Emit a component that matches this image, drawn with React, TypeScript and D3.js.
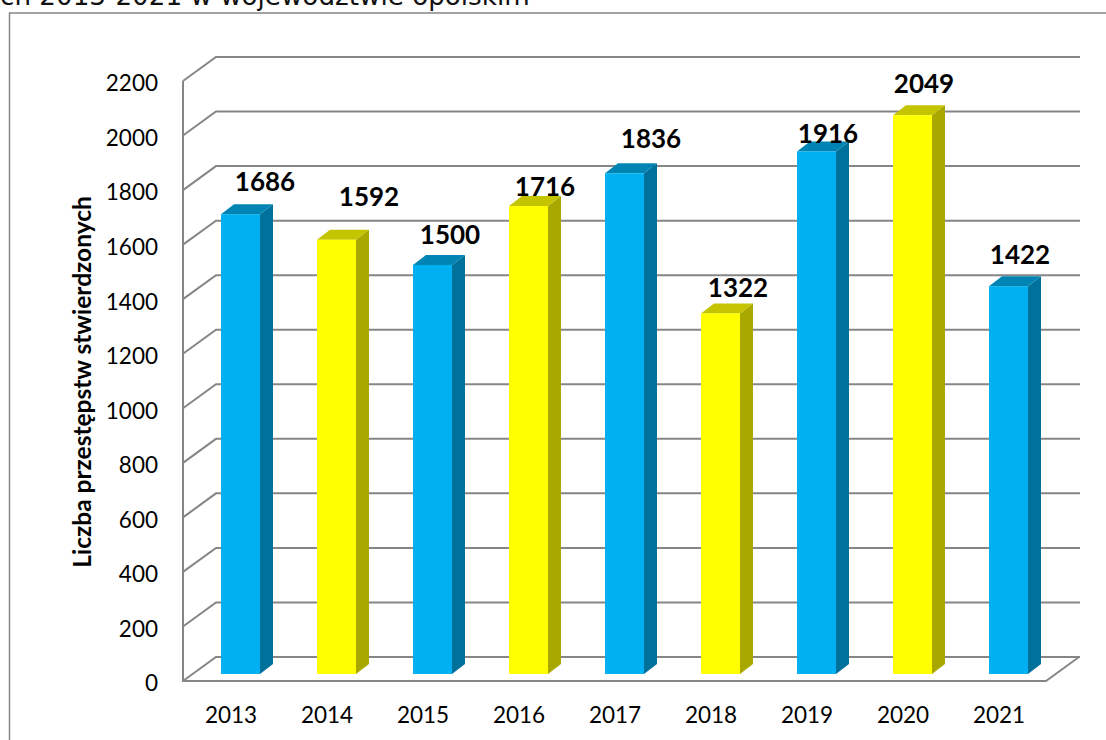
import { useEffect, useRef } from 'react'
import * as d3 from 'd3'

const years = ['2013', '2014', '2015', '2016', '2017', '2018', '2019', '2020', '2021']
const counts = [1686, 1592, 1500, 1716, 1836, 1322, 1916, 2049, 1422]
const yTicks = [0, 200, 400, 600, 800, 1000, 1200, 1400, 1600, 1800, 2000, 2200]
const yTitle = 'Liczba przestępstw stwierdzonych'
const heading = 'ch 2013-2021 w województwie opolskim'

// labels were dragged by hand in the original, so each has its own offset from the bar
const labelNudge: [number, number][] = [
  [44, -32], [52, -43], [37, -30], [36, -19], [46, -34], [37, -26], [31, -18], [31, -31], [31, -31],
]

const width = 1106
const height = 740
const plot = { left: 183, right: 1047, top: 81, bottom: 681 }
const wall = { dx: 33, dy: -24 }
const barDepth = { dx: 13, dy: -10 }
const barWidth = 39

const palette = {
  blue: { front: '#00b0f0', top: '#0084b4', side: '#00719b' },
  yellow: { front: '#ffff00', top: '#c4c400', side: '#a8a800' },
}

export default function App() {
  const svgRef = useRef<SVGSVGElement>(null)

  useEffect(() => {
    const svg = d3.select(svgRef.current)
    svg.selectAll('*').remove()

    const x = d3.scaleBand().domain(years).range([plot.left, plot.right])
    const y = d3.scaleLinear().domain([0, 2200]).range([plot.bottom, plot.top])
    // bars stand a little in from the front edge of the floor
    const barX = (d: string) => x(d)! + x.bandwidth() / 2 - barWidth / 2 + 9.5
    const barY = (v: number) => y(v) - 7

    svg.append('text')
      .attr('x', 0)
      .attr('y', 5)
      .attr('font-family', 'DejaVu Sans')
      .attr('font-size', 26.2)
      .attr('fill', '#111')
      .text(heading)

    // chart frame
    svg.append('path')
      .attr('d', `M9.5 ${height}V13H${width}`)
      .attr('fill', 'none')
      .attr('stroke', '#868686')
      .attr('stroke-width', 1.5)

    const grid = svg.append('g').attr('fill', 'none').attr('stroke', '#868686').attr('stroke-width', 2)

    grid.selectAll('path.wall')
      .data(yTicks)
      .join('path')
      .attr('class', 'wall')
      .attr('d', d => `M${plot.left} ${y(d)}l${wall.dx} ${wall.dy}H${plot.right + wall.dx}`)

    grid.append('path')
      .attr('d', `M${plot.left} ${plot.top}V${plot.bottom}H${plot.right - 1}l${wall.dx} ${wall.dy}`)

    const bars = svg.append('g')
      .selectAll('g')
      .data(years.map((year, i) => ({ year, value: counts[i], i })))
      .join('g')
      .each(function (d) {
        const g = d3.select(this)
        const colors = d.i === 1 || d.i === 3 || d.i === 5 || d.i === 7 ? palette.yellow : palette.blue
        const x0 = barX(d.year)
        const top = barY(d.value)
        const base = barY(0)
        const x1 = x0 + barWidth
        const { dx, dy } = barDepth

        g.append('path')
          .attr('d', `M${x1} ${top}l${dx} ${dy}V${base + dy}l${-dx} ${-dy}Z`)
          .attr('fill', colors.side)
        g.append('path')
          .attr('d', `M${x0} ${top}l${dx} ${dy}H${x1 + dx}l${-dx} ${-dy}Z`)
          .attr('fill', colors.top)
        g.append('rect')
          .attr('x', x0)
          .attr('y', top)
          .attr('width', barWidth)
          .attr('height', base - top)
          .attr('fill', colors.front)
      })

    bars.append('text')
      .attr('x', d => barX(d.year) + labelNudge[d.i][0])
      .attr('y', d => barY(d.value) + labelNudge[d.i][1])
      .attr('dy', '0.35em')
      .attr('text-anchor', 'middle')
      .attr('font-family', 'Lato')
      .attr('font-weight', 700)
      .attr('font-size', 26)
      .attr('fill', '#000')
      .text(d => d.value)

    svg.append('g')
      .selectAll('text')
      .data(yTicks)
      .join('text')
      .attr('x', 158)
      .attr('y', d => y(d))
      .attr('dy', '0.46em')
      .attr('text-anchor', 'end')
      .attr('font-family', 'Lato')
      .attr('font-size', 22.5)
      .attr('fill', '#000')
      .text(d => d)

    svg.append('g')
      .selectAll('text')
      .data(years)
      .join('text')
      .attr('x', d => x(d)! + x.bandwidth() / 2)
      .attr('y', 715)
      .attr('dy', '0.35em')
      .attr('text-anchor', 'middle')
      .attr('font-family', 'Lato')
      .attr('font-size', 22.5)
      .attr('fill', '#000')
      .text(d => d)

    svg.append('text')
      .attr('transform', 'translate(82,382) rotate(-90)')
      .attr('dy', '0.35em')
      .attr('text-anchor', 'middle')
      .attr('font-family', 'Lato')
      .attr('font-weight', 700)
      .attr('font-size', 24.5)
      .attr('fill', '#000')
      .text(yTitle)
  }, [])

  return (
    <svg
      ref={svgRef}
      width={width}
      height={height}
      viewBox={`0 0 ${width} ${height}`}
      style={{ position: 'absolute', left: 0, top: 0, background: '#fff', display: 'block' }}
    />
  )
}
